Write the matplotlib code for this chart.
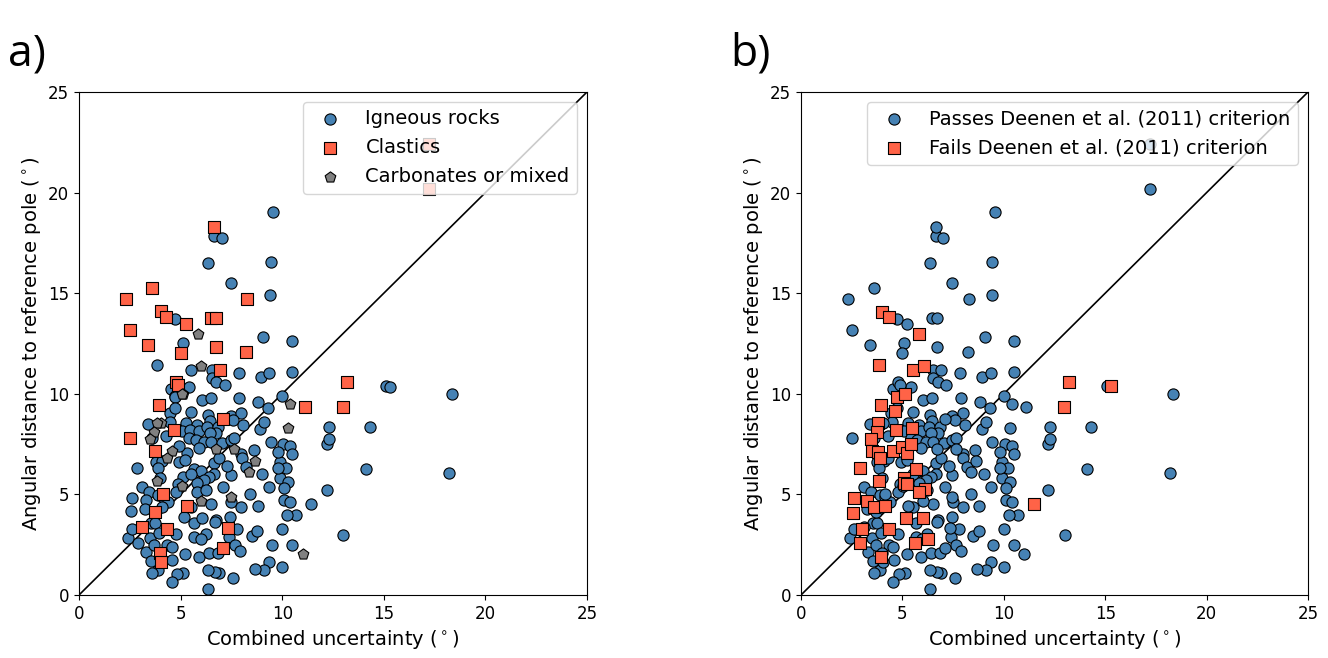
import numpy as np
import matplotlib
matplotlib.use('Agg')
import matplotlib.pyplot as plt

# (x, y), grouped by lithology
igneous = [
    (9.55, 19.05), (6.64, 17.84), (7.02, 17.73), (6.37, 16.52), (9.43, 16.57), (7.46, 15.49),
    (9.40, 14.9), (4.72, 13.7), (9.06, 12.81), (5.10, 12.53), (10.5, 12.6), (3.82, 11.43),
    (5.50, 11.17), (6.53, 11.18), (6.53, 10.77), (6.76, 10.57), (7.17, 10.44), (7.86, 11.05),
    (8.94, 10.84), (9.35, 11.03), (10.5, 11.1), (4.54, 10.22), (5.41, 10.36), (4.72, 9.89),
    (10.0, 9.9), (15.1, 10.4), (15.3, 10.35), (18.35, 10.0), (12.3, 8.35), (14.3, 8.35),
    (12.2, 7.5), (12.3, 7.75), (14.1, 6.25), (18.2, 6.05), (12.2, 5.2), (11.4, 4.5),
    (10.7, 4.0), (13.0, 3.0), (10.5, 2.5), (10.0, 1.4), (10.05, 7.5), (10.4, 7.4),
    (10.5, 7.0), (9.9, 6.6), (10.2, 6.3), (9.9, 5.8), (10.3, 5.6), (10.1, 5.3), (10.1, 4.7),
    (10.4, 4.6), (10.25, 4.0), (10.0, 3.3),
    (4.72, 9.86), (6.04, 9.69), (6.48, 9.78), (7.89, 9.78), (8.83, 9.61), (9.32, 9.28),
    (4.46, 9.03), (4.72, 9.28), (5.51, 9.11), (6.35, 8.93), (6.45, 8.67), (7.46, 8.90),
    (7.99, 9.03), (7.60, 8.70), (8.09, 8.45), (8.91, 8.23), (5.28, 8.53), (5.82, 8.45),
    (5.09, 8.15), (5.46, 8.2), (5.91, 8.17), (6.32, 8.37), (6.84, 8.37), (6.76, 8.07),
    (6.43, 8.04), (5.41, 7.82), (5.74, 7.7), (6.15, 7.62), (6.51, 7.62), (7.05, 7.54),
    (7.46, 7.7), (7.63, 7.79), (7.99, 6.99), (8.0, 6.79), (8.2, 6.35), (9.43, 7.62),
    (9.81, 7.12), (9.81, 6.3), (3.77, 6.63), (4.07, 6.68), (4.92, 6.63), (5.30, 7.07),
    (5.22, 6.71), (5.66, 6.26), (6.02, 6.18), (6.64, 6.55), (6.64, 6.02), (6.40, 5.85),
    (6.15, 5.72), (7.46, 5.97), (7.10, 5.39), (5.82, 5.55), (5.13, 5.85), (4.89, 5.52),
    (5.79, 5.12), (6.23, 5.22), (2.87, 6.29), (3.87, 6.29), (3.12, 5.35), (3.44, 5.14),
    (2.59, 4.84), (3.28, 4.72), (3.90, 4.97), (4.15, 4.89), (4.40, 4.64), (2.58, 4.19),
    (3.23, 4.28), (4.10, 4.39), (4.76, 5.14), (5.53, 4.39), (5.17, 3.89), (5.66, 3.56),
    (6.07, 3.81), (6.76, 3.73), (6.69, 3.65), (7.43, 3.86), (7.48, 4.64), (7.99, 4.36),
    (8.40, 5.0), (9.35, 5.39), (3.53, 3.56), (3.74, 3.56), (2.43, 2.82), (2.92, 2.57),
    (3.51, 2.82), (3.94, 3.07), (4.76, 3.03), (3.28, 2.15), (3.69, 2.49), (4.35, 2.49),
    (4.56, 2.40), (5.66, 2.90), (6.23, 3.03), (5.99, 2.77), (5.91, 1.91), (6.40, 2.11),
    (6.86, 2.11), (7.38, 2.90), (7.66, 2.49), (7.91, 2.19), (8.50, 2.93), (8.78, 3.18),
    (9.48, 2.49), (9.35, 1.66), (9.11, 1.25), (8.66, 1.28), (7.60, 0.86), (6.89, 1.08),
    (6.69, 1.16), (6.37, 1.25), (5.22, 2.04), (5.13, 1.11), (4.81, 1.03), (4.56, 0.63),
    (3.90, 1.25), (3.61, 1.08), (3.53, 1.71), (4.59, 1.74), (6.35, 0.30),
    (3.6, 7.8), (4.3, 7.9), (4.9, 7.4), (5.9, 7.3), (6.9, 6.8), (7.3, 6.4), (8.6, 7.2),
    (9.1, 8.6), (9.0, 6.0), (8.8, 4.4), (7.8, 3.3), (6.5, 4.5), (5.5, 6.0), (4.0, 5.8),
    (2.6, 3.3), (3.4, 8.5), (4.5, 8.6),
]
clastics = [
    (6.64, 18.31), (3.58, 15.28), (2.31, 14.73), (8.27, 14.73), (4.02, 14.1), (4.30, 13.82),
    (5.25, 13.49), (6.48, 13.77), (6.73, 13.77), (2.51, 13.16), (3.41, 12.44), (5.0, 12.05),
    (6.73, 12.31), (8.22, 12.08), (6.92, 11.17), (4.76, 10.6), (4.89, 10.44), (3.92, 9.43),
    (7.09, 8.73), (2.51, 7.82), (4.66, 8.20), (3.74, 7.16), (4.15, 5.02), (3.72, 4.14),
    (5.30, 4.44), (3.12, 3.40), (4.31, 3.27), (7.35, 3.35), (3.99, 2.07), (4.02, 1.63),
    (7.10, 2.35), (13.2, 10.6), (11.1, 9.35), (13.0, 9.35), (17.2, 22.4), (17.2, 20.2),
]
carbonates = [
    (5.86, 12.97), (6.02, 11.4), (5.10, 10.01), (5.09, 9.99), (4.04, 8.57), (3.86, 8.57),
    (3.69, 8.12), (3.48, 7.75), (7.63, 7.26), (6.73, 7.24), (8.64, 6.66), (8.37, 6.13),
    (4.56, 7.16), (4.31, 6.79), (3.82, 5.68), (5.05, 5.42), (6.02, 4.67), (7.46, 4.85),
    (10.4, 9.5), (10.3, 8.3), (11.0, 2.05),
]

# squares in panel b (fail Deenen et al. 2011)
deenen_fail = [
    (4.01, 14.08), (4.34, 13.83), (5.83, 12.99), (3.85, 11.43), (5.51, 11.2), (6.05, 11.4),
    (4.72, 9.83), (5.13, 9.99), (3.93, 9.43), (4.63, 9.16), (3.81, 8.56), (3.73, 8.12),
    (3.47, 7.77), (4.67, 8.2), (5.46, 8.32), (3.5, 7.17), (3.78, 7.12), (4.55, 7.15),
    (4.96, 7.37), (5.21, 7.07), (5.41, 7.5), (3.89, 6.82), (2.91, 6.33), (5.65, 6.24),
    (5.08, 5.8), (3.83, 5.67), (5.08, 5.56), (5.24, 5.53), (6.11, 5.25), (5.84, 5.1),
    (2.63, 4.84), (3.27, 4.68), (2.58, 4.09), (3.62, 4.37), (4.16, 4.43), (5.18, 3.81),
    (6.03, 3.81), (2.99, 3.28), (4.34, 3.28), (2.91, 2.6), (5.62, 2.6), (6.28, 2.76),
    (3.93, 1.87), (13.2, 10.6), (12.95, 9.35), (15.3, 10.4), (11.5, 4.5),
]

blue = '#4682b4'
red = '#ff6347'
grey = '#808080'
kw = dict(s=65, edgecolors='black', linewidths=0.8, zorder=3)

fig = plt.figure(figsize=(13.28, 6.58), dpi=100)
ax1 = fig.add_axes([79/1328, 63/658, 508/1328, 503/658])
ax2 = fig.add_axes([801/1328, 63/658, 507/1328, 503/658])

ig = np.array(igneous)
cl = np.array(clastics)
cb = np.array(carbonates)
ax1.scatter(ig[:, 0], ig[:, 1], c=blue, marker='o', label='Igneous rocks', **kw)
ax1.scatter(cl[:, 0], cl[:, 1], c=red, marker='s', label='Clastics', **kw)
ax1.scatter(cb[:, 0], cb[:, 1], c=grey, marker='p', label='Carbonates or mixed', **kw)

allpts = np.vstack([ig, cl, cb])
fails = np.array(deenen_fail)
dmin = np.min(np.hypot(allpts[:, None, 0] - fails[None, :, 0],
                       allpts[:, None, 1] - fails[None, :, 1]), axis=1)
passes = allpts[dmin > 0.12]
ax2.scatter(passes[:, 0], passes[:, 1], c=blue, marker='o',
            label='Passes Deenen et al. (2011) criterion', **kw)
ax2.scatter(fails[:, 0], fails[:, 1], c=red, marker='s',
            label='Fails Deenen et al. (2011) criterion', **kw)

for ax, lab in [(ax1, 'a)'), (ax2, 'b)')]:
    ax.plot([0, 25], [0, 25], color='black', lw=1.2, zorder=2)
    ax.set_xlim(0, 25)
    ax.set_ylim(0, 25)
    ax.set_xticks([0, 5, 10, 15, 20, 25])
    ax.set_yticks([0, 5, 10, 15, 20, 25])
    ax.tick_params(labelsize=12)
    ax.set_xlabel('Combined uncertainty ($^\\circ$)', fontsize=14)
    ax.set_ylabel('Angular distance to reference pole ($^\\circ$)', fontsize=14)
    ax.legend(loc='upper right', fontsize=14, handletextpad=0.8, borderpad=0.4)
    ax.text(-0.14, 1.03, lab, transform=ax.transAxes, fontsize=32,
            family='Open Sans', va='bottom', ha='left')

fig.savefig('out.png', dpi=100)
